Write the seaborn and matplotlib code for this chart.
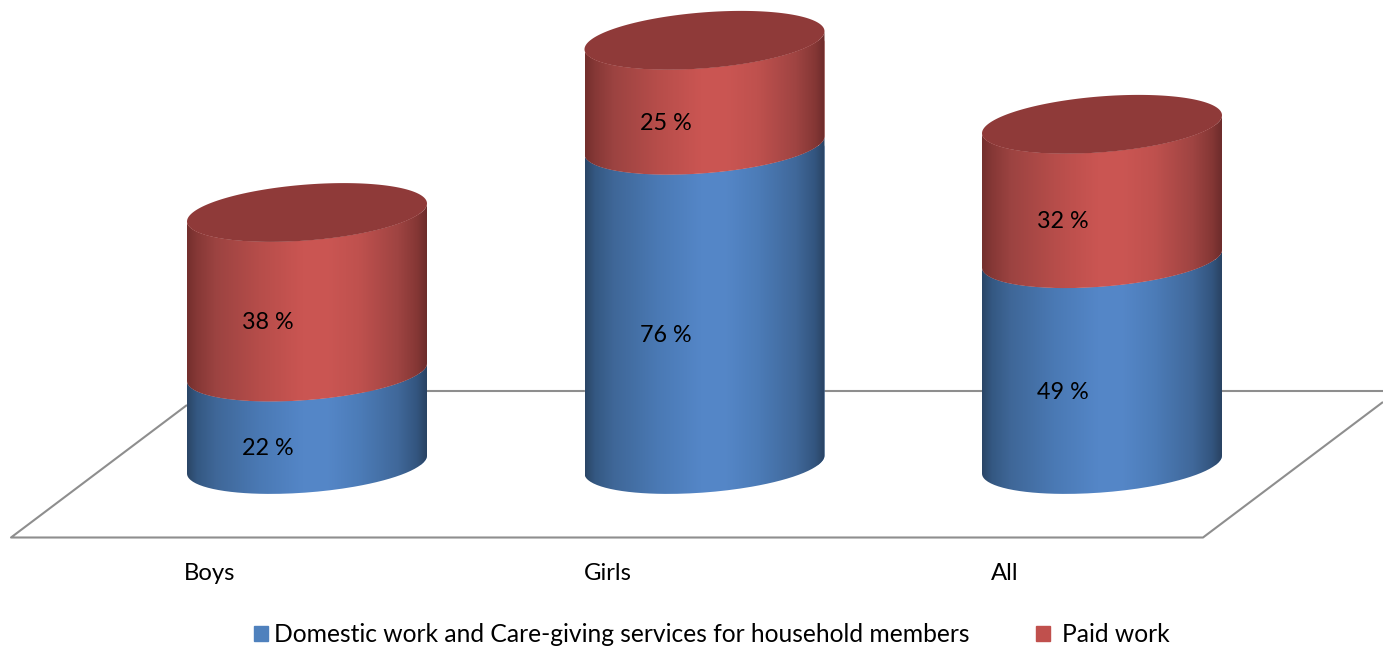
import numpy as np
import matplotlib
matplotlib.use("Agg")
import matplotlib.pyplot as plt
import seaborn as sns
from matplotlib.colors import LinearSegmentedColormap
from matplotlib.patches import PathPatch, Patch
from matplotlib.path import Path

groups = ["Boys", "Girls", "All"]
domestic = [22, 76, 49]
paid = [38, 25, 32]
series_names = ["Domestic work and Care-giving services for household members", "Paid work"]

W, H = 1383, 646
AX_BOTTOM_PX = 555
BASE_PX = 464.5
PX_PER_PCT = 4.2
PX_PER_CAT = 397.5
CAT0_PX = 307

def xd(px):
    return (px - CAT0_PX) / PX_PER_CAT

def yd(py):
    return (BASE_PX - py) / PX_PER_PCT

sns.set_theme(style="white")
plt.rcParams["font.family"] = ["Lato", "DejaVu Sans"]
FS_LABEL = 16.8
FS_TICK = 17.2
FS_LEGEND = 17.7

fig = plt.figure(figsize=(W / 100, H / 100), dpi=100, facecolor="white")
ax = fig.add_axes([0, (H - AX_BOTTOM_PX) / H, 1, AX_BOTTOM_PX / H])

BLUE, RED = "#4f81bd", "#c0504d"
WIDTH = 240 / PX_PER_CAT
sns.barplot(x=groups, y=domestic, color=BLUE, width=WIDTH, saturation=1, ax=ax, zorder=2)
n_first = len(ax.patches)
sns.barplot(x=groups, y=paid, bottom=domestic, color=RED, width=WIDTH, saturation=1, ax=ax, zorder=3)

blue_cmap = LinearSegmentedColormap.from_list("b", [
    (0, "#2a4566"), (0.04, "#345882"), (0.12, "#3f6798"), (0.3, "#4a79b4"),
    (0.48, "#5486c7"), (0.58, "#5587c8"), (0.72, "#4c7cb8"), (0.88, "#40689a"), (0.96, "#33557f"), (1, "#294363")])
red_cmap = LinearSegmentedColormap.from_list("r", [
    (0, "#732f2d"), (0.04, "#863836"), (0.12, "#9c4341"), (0.3, "#b64d4a"),
    (0.48, "#ca5552"), (0.58, "#cb5653"), (0.72, "#bf514e"), (0.88, "#9f4442"), (0.96, "#853735"), (1, "#6d2c2b")])
TOP_COLOR = "#8f3a39"

TILT = 9 / PX_PER_PCT
MINOR = 28 / PX_PER_PCT
t = np.linspace(0, 2 * np.pi, 181)

def rim(cx, cy, half, theta):
    return cx + half * np.cos(theta), cy + TILT * np.cos(theta) + MINOR * np.sin(theta)

def body_path(cx, half, y0, y1):
    th = np.linspace(np.pi, 2 * np.pi, 90)
    xl, yl = rim(cx, y0, half, th)
    xu, yu = rim(cx, y1, half, th[::-1])
    return Path(np.column_stack([np.r_[xl, xu], np.r_[yl, yu]]))

def draw_body(patch, cmap, z):
    x0, w = patch.get_x(), patch.get_width()
    y0, h = patch.get_y(), patch.get_height()
    cx, half = x0 + w / 2, w / 2
    path = body_path(cx, half, y0, y0 + h)
    clip = PathPatch(path, transform=ax.transData, fc="none", ec="none")
    ax.add_patch(clip)
    img = ax.imshow(np.linspace(0, 1, 256)[None, :], cmap=cmap, aspect="auto", zorder=z,
                    extent=[x0, x0 + w, y0 - 40, y0 + h + 40], interpolation="bilinear")
    img.set_clip_path(clip)
    patch.set_clip_path(clip)
    return cx, half, y0, h

for i, p in enumerate(list(ax.patches)[:n_first + len(paid)]):
    is_blue = i < n_first
    cx, half, y0, h = draw_body(p, blue_cmap if is_blue else red_cmap, 2 if is_blue else 3)
    value = (domestic if is_blue else paid)[i if is_blue else i - n_first]
    ax.annotate(f"{value} %", xy=(cx, y0 + h / 2), xytext=(-39 * 0.72, -30.5 * 0.72),
                textcoords="offset points", ha="center", va="center", fontsize=FS_LABEL,
                color="black", zorder=6)
    if not is_blue:
        xe, ye = rim(cx, y0 + h, half, t)
        ax.fill(xe, ye, color=TOP_COLOR, lw=0, zorder=4)

# floor of the 3-D plot
floor_kw = dict(color="#8e8e8e", lw=1.5, zorder=1, solid_capstyle="butt")
ax.plot([xd(187), xd(11), xd(1203), xd(1383)], [yd(405), yd(537.5), yd(537.5), yd(402)], **floor_kw)
ax.plot([xd(205), xd(1383)], [yd(391), yd(391)], **floor_kw)

ax.set_xlim(xd(0), xd(W))
ax.set_ylim(yd(AX_BOTTOM_PX), yd(0))
ax.set_xticks([i - 97 / PX_PER_CAT for i in range(len(groups))], groups)
ax.set_yticks([])
ax.tick_params(axis="x", length=0, pad=5.5, labelsize=FS_TICK, colors="black")
ax.set_xlabel("")
sns.despine(ax=ax, left=True, bottom=True)
ax.patch.set_alpha(0)

common = dict(loc="center left", frameon=False, fontsize=FS_LEGEND, handlelength=0.57,
              handleheight=0.57, borderpad=0, borderaxespad=0, labelcolor="black")
fig.legend(handles=[Patch(color=BLUE, label=series_names[0])],
           bbox_to_anchor=(254 / W, 1 - 634.5 / H), handletextpad=0.26, **common)
fig.legend(handles=[Patch(color=RED, label=series_names[1])],
           bbox_to_anchor=(1036 / W, 1 - 634.5 / H), handletextpad=0.5, **common)

fig.savefig("out.png", dpi=100, facecolor="white")
